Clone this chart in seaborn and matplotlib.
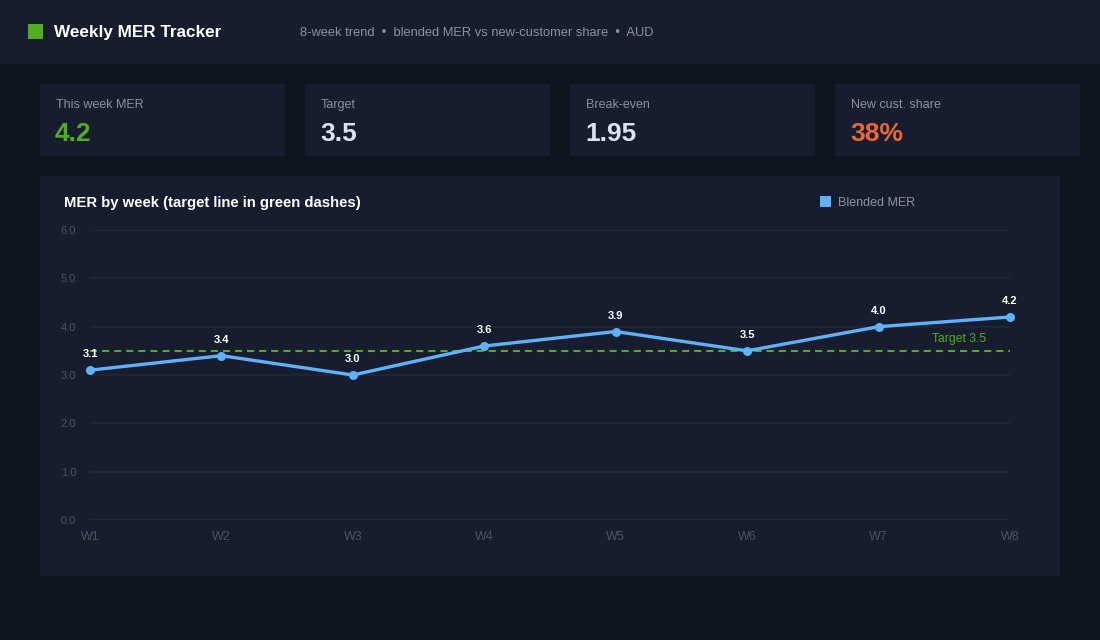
import matplotlib
matplotlib.use("Agg")
import matplotlib.pyplot as plt
from matplotlib.patches import Rectangle
import seaborn as sns
import pandas as pd

weeks = ["W1", "W2", "W3", "W4", "W5", "W6", "W7", "W8"]
mer = [3.1, 3.4, 3.0, 3.6, 3.9, 3.5, 4.0, 4.2]
target = 3.5
y_ticks = [0.0, 1.0, 2.0, 3.0, 4.0, 5.0, 6.0]
kpi_labels = ["This week MER", "Target", "Break-even", "New cust. share"]
kpi_values = ["4.2", "3.5", "1.95", "38%"]
kpi_colors = ["#52ae1e", "#dde3ee", "#dde3ee", "#e8683a"]

sns.set_theme(style="dark")
plt.rcParams["font.family"] = ["Liberation Sans", "DejaVu Sans"]

W, H = 1100, 640
BG = "#10141e"
PANEL = "#171d2e"
LINE = "#5fb2fa"
GREEN = "#52ae1e"

fig = plt.figure(figsize=(W / 100, H / 100), dpi=100, facecolor=BG)

def px_rect(x, y, w, h, color, z=0):
    fig.patches.append(Rectangle((x / W, 1 - (y + h) / H), w / W, h / H,
                                 transform=fig.transFigure, facecolor=color,
                                 edgecolor="none", zorder=z))

def px_text(x, y, s, **kw):
    fig.text(x / W, 1 - y / H, s, **kw)

# header
px_rect(0, 0, W, 64, "#171d2e")
px_rect(28, 24, 15, 15, GREEN, 1)
px_text(54, 32.5, "Weekly MER Tracker", color="white", fontsize=12.3,
        fontweight="bold", va="center")
px_text(300, 33.5, "8-week trend  \u2022  blended MER vs new-customer share  \u2022  AUD",
        color="#8a93a5", fontsize=9.3, va="center")

# KPI cards
for i, (lab, val, col) in enumerate(zip(kpi_labels, kpi_values, kpi_colors)):
    x0 = 40 + i * 265
    px_rect(x0, 84, 245, 72, PANEL)
    px_text(x0 + 16, 105, lab, color="#8a93a5", fontsize=9, va="center")
    px_text(x0 + 15, 134, val, color=col, fontsize=19, fontweight="bold", va="center")

# chart panel
px_rect(40, 176, 1020, 400, PANEL)
px_text(64, 202.5, "MER by week (target line in green dashes)", color="white",
        fontsize=10.7, fontweight="bold", va="center")
px_rect(820, 196, 11, 11, LINE, 1)
px_text(838, 203, "Blended MER", color="#8a93a5", fontsize=9, va="center")

ax = fig.add_axes([90 / W, 1 - 520 / H, 920 / W, 290 / H])
ax.set_zorder(5)
ax.set_facecolor("none")
ax.patch.set_alpha(0)
df = pd.DataFrame({"week": weeks, "mer": mer})
sns.lineplot(data=df, x="week", y="mer", ax=ax, color=LINE, linewidth=2.4,
             marker="o", markersize=6.5, markeredgewidth=0, sort=False,
             clip_on=False, zorder=4)
ax.axhline(target, color=GREEN, linestyle=(0, (3.4, 2.4)), linewidth=1.5, zorder=3)
ax.text(len(weeks) - 1 - 0.18, target + 0.25, f"Target {target}", color=GREEN,
        fontsize=8.7, ha="right", va="center")
for i, v in enumerate(mer):
    ax.annotate(f"{v:.1f}", (i, v), xytext=(0, 11.5), textcoords="offset points",
                ha="center", va="center", color="white", fontsize=8,
                fontweight="bold", zorder=5)

ax.set_xlim(0, len(weeks) - 1)
ax.set_ylim(0, 6)
ax.set_yticks(y_ticks)
ax.set_yticklabels([f"{t:.1f}" for t in y_ticks])
ax.grid(axis="y", color="#1f2839", linewidth=1.2)
ax.grid(axis="x", visible=False)
for s in ax.spines.values():
    s.set_visible(False)
ax.tick_params(axis="y", colors="#4b5468", labelsize=8, length=0, pad=10)
ax.tick_params(axis="x", colors="#4b5468", labelsize=9, length=0, pad=8)
ax.set_xlabel("")
ax.set_ylabel("")
if ax.get_legend():
    ax.get_legend().remove()

fig.savefig("out.png", dpi=100, facecolor=BG)
